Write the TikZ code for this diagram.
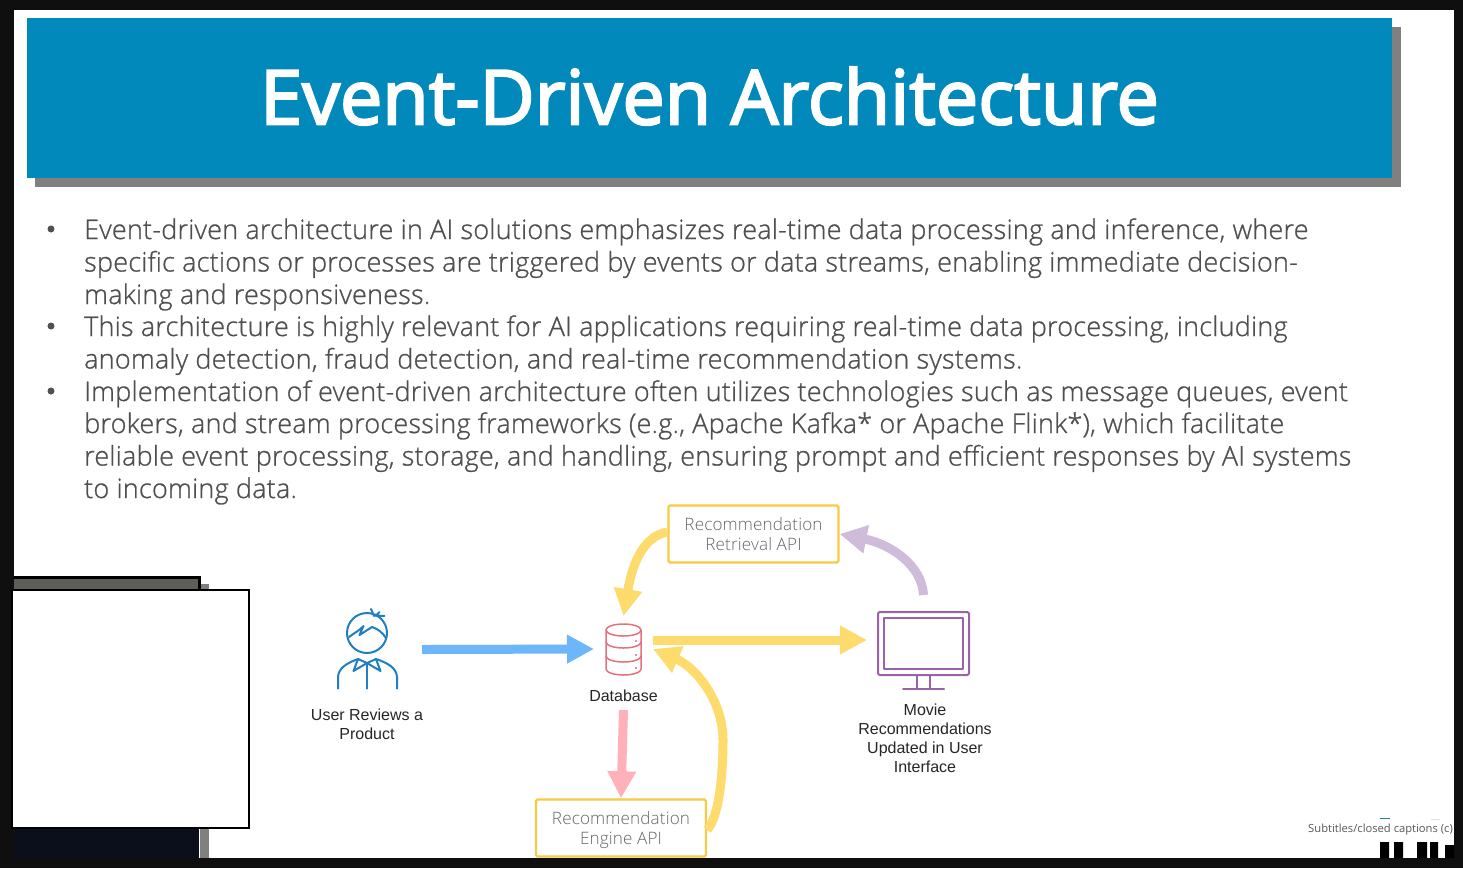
\documentclass[tikz,border=0pt]{standalone}
\usepackage{fontspec}
\usetikzlibrary{arrows.meta}
\setmainfont{Liberation Sans}
\newfontfamily\bodyfont[UprightFont=* Light,LetterSpace=0.8]{Open Sans}
\newfontfamily\titlefont{Open Sans}
\newfontfamily\capfont{Open Sans}
\newcommand{\strokedtext}[3]{\special{pdf:code q 2 Tr #1 w #2 #2 #2 RG}#3\special{pdf:code Q}}
\definecolor{frame}{HTML}{0F0F0F}
\definecolor{banner}{HTML}{0089BA}
\definecolor{bodygray}{HTML}{505050}
\definecolor{boxy}{HTML}{F7CB45}
\definecolor{arry}{HTML}{FDDB6D}
\definecolor{arrb}{HTML}{6DB6F9}
\definecolor{arrp}{HTML}{FFB0B9}
\definecolor{arrv}{HTML}{CFBCDB}
\definecolor{iconb}{HTML}{1F7FC0}
\definecolor{iconr}{HTML}{E4727E}
\definecolor{iconv}{HTML}{9A63A8}
\definecolor{navy}{HTML}{0B0F1C}
\definecolor{camstrip}{HTML}{5E5E58}
\tikzset{
  x=1pt,y=-1pt,
  bodyline/.style={anchor=base west,inner sep=0pt,text=bodygray,font=\bodyfont\fontsize{27}{30}\selectfont},
  bulletdot/.style={circle,fill=bodygray,inner sep=0pt,minimum size=7pt},
  apibox/.style={draw=boxy,line width=2.4pt,rounded corners=1.5pt,fill=white,text=black!60,align=center,inner sep=0pt,font=\bodyfont\fontsize{17.1}{20}\selectfont},
  lbl/.style={align=center,inner sep=0pt,text=black!85,font=\fontsize{16}{19}\selectfont},
  anchornode/.style={inner sep=0pt,outer sep=0pt},
  flow/.style={line width=9pt,-{Triangle[length=27pt,width=27pt]}},
  icon/.style={line width=2pt,line cap=round,line join=round}
}
\begin{document}
\begin{tikzpicture}
\useasboundingbox (0,0) rectangle (1463,868);
\fill[frame] (0,0) rectangle (1463,868);
\fill[white] (14,10) rectangle (1454,858);
% banner
\fill[black!50] (35,27) rectangle (1401,187);
\node[name=banner,fill=banner,minimum width=1365pt,minimum height=160pt,inner sep=0pt,anchor=north west] at (27,18) {};
\node[name=title,text=white,inner sep=0pt,font=\titlefont\fontsize{75.5}{80}\selectfont] at (709.5,96) {\strokedtext{2.2}{1}{Event-Driven Architecture}};
% body text
\foreach \yy/\nn in {229/b1,326/b2,391/b3}{\node[bulletdot,name=\nn] at (51,\yy) {};}
\node[bodyline,name=l1] at (84,239) {\strokedtext{0.25}{0.31}{Event-driven architecture in AI solutions emphasizes real-time data processing and inference, where}};
\node[bodyline,name=l2] at (84,271.5) {\strokedtext{0.25}{0.31}{specific actions or processes are triggered by events or data streams, enabling immediate decision-}};
\node[bodyline,name=l3] at (84,304) {\strokedtext{0.25}{0.31}{making and responsiveness.}};
\node[bodyline,name=l4] at (84,336) {\strokedtext{0.25}{0.31}{This architecture is highly relevant for AI applications requiring real-time data processing, including}};
\node[bodyline,name=l5] at (84,368.5) {\strokedtext{0.25}{0.31}{anomaly detection, fraud detection, and real-time recommendation systems.}};
\node[bodyline,name=l6] at (84,401) {\strokedtext{0.25}{0.31}{Implementation of event-driven architecture often utilizes technologies such as message queues, event}};
\node[bodyline,name=l7] at (84,433) {\strokedtext{0.25}{0.31}{brokers, and stream processing frameworks (e.g., Apache Kafka* or Apache Flink*), which facilitate}};
\node[bodyline,name=l8] at (84,465.5) {\strokedtext{0.25}{0.31}{reliable event processing, storage, and handling, ensuring prompt and efficient responses by AI systems}};
\node[bodyline,name=l9] at (84,498) {\strokedtext{0.25}{0.31}{to incoming data.}};
% webcam
\fill[black!50] (200,584) rectangle (208.5,858);
\fill[black] (14,576) rectangle (200.5,590);
\fill[camstrip] (14,578.5) rectangle (198,590);
\fill[navy] (14,828) rectangle (199,858);
\draw[fill=white,draw=black,line width=2.5pt] (12,590) rectangle (249,828);
% boxes
\node[apibox,name=ret,minimum width=170pt,minimum height=57pt] at (753.5,534) {Recommendation\\Retrieval API};
\node[apibox,name=eng,minimum width=170pt,minimum height=57pt] at (621,828) {Recommendation\\\smash{Engine API}};
% person
\node[anchornode,name=person,minimum width=110pt,minimum height=80pt] at (367,649.5) {};
\begin{scope}[icon,draw=iconb]
\draw (367,633) circle (20);
\draw (349,637) .. controls (354,633) and (359,631) .. (363.5,626) -- (359.5,635) -- (372,627) .. controls (378,629) and (382,632) .. (386,638);
\draw (371,609) -- (374,616) (379.5,612) -- (375.5,616) (376,615.5) -- (384.5,616);
\draw (338,688.5) -- (338,677) .. controls (338.5,668) and (347,663) .. (358,659) (397,688.5) -- (397,677) .. controls (396.5,668) and (388,663) .. (376,659);
\draw (358,659) -- (353.5,671) -- (367,663) -- (380.5,671) -- (376,659) (358,659) -- (367,663) -- (376,659);
\draw (367,663) -- (367,688.5);
\end{scope}
\node[lbl,name=user] at (367,724.5) {User Reviews a\\Product};
% database
\node[anchornode,name=db,minimum width=59pt,minimum height=66pt] at (623.5,649) {};
\begin{scope}[icon,draw=iconr,line width=1.5pt]
\draw (606,630) arc[start angle=180,end angle=-180,x radius=17.5,y radius=6];
\draw (606,630) -- (606,669) arc[start angle=180,end angle=0,x radius=17.5,y radius=6] -- (641,630);
\draw (606,642) arc[start angle=180,end angle=0,x radius=17.5,y radius=6];
\draw (606,656) arc[start angle=180,end angle=0,x radius=17.5,y radius=6];
\end{scope}
\foreach \yy in {641,655,668}{\fill[iconr] (636,\yy) circle (1.2);}
\node[lbl,name=dbl] at (623.5,696) {Database};
% monitor
\node[anchornode,name=mon,minimum width=113pt,minimum height=90pt] at (923.5,640) {};
\begin{scope}[icon,draw=iconv,line width=2pt]
\draw[rounded corners=1.5pt] (878,612) rectangle (969,675);
\draw (884,618) rectangle (963,669);
\draw (917,675) -- (917,688) (930,675) -- (930,688) (903,688.5) -- (944,688.5);
\end{scope}
\node[lbl,name=movie] at (925,738) {Movie\\Recommendations\\Updated in User\\Interface};
% connectors
\draw[flow,arrb] (person.east) -- (db.west);
\draw[flow,arry] ([yshift=2pt]ret.west) .. controls (645,536) and (633,560) .. (db.north);
\draw[flow,arrv] (mon.north) .. controls (922,565) and (890,544) .. (ret.east);
\draw[flow,arry] ([yshift=9pt]db.east) -- (mon.west);
\draw[flow,arrp] ([yshift=-8pt]dbl.south) -- (eng.north);
\draw[flow,arry] ([yshift=-2pt]eng.east) .. controls (720,815) and (723,770) .. (723,740) .. controls (723,700) and (695,667) .. (db.east);
% logo fragments and caption
\node[name=cap,anchor=east,inner sep=0pt,text=black!65,font=\capfont\fontsize{11.2}{12}\selectfont] at (1453,830) {Subtitles/closed captions (c)};
\fill[black] (1380,842) rectangle (1389,858) (1394,842) rectangle (1403,858) (1417,842) rectangle (1427,858) (1430,842) rectangle (1438,858) (1445,845) rectangle (1454,858);
\fill[iconb] (1380,817.5) rectangle (1390,819);
\fill[black!12] (1431,818.5) rectangle (1440,819.5);
\end{tikzpicture}
\end{document}
